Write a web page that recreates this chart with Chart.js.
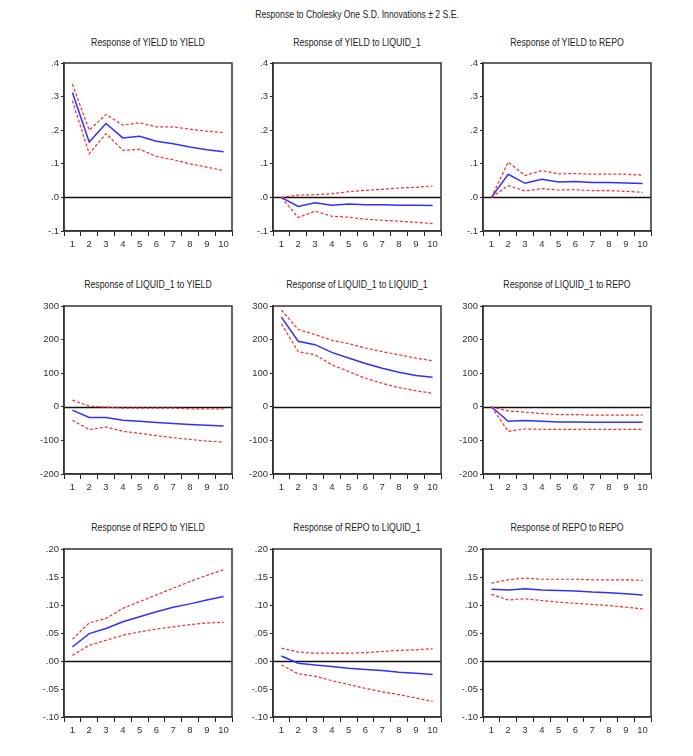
<!DOCTYPE html>
<html>
<head>
<meta charset="utf-8">
<script src="https://cdn.jsdelivr.net/npm/chart.js@4.4.1/dist/chart.umd.min.js"></script>
<style>
  html, body { margin: 0; padding: 0; background: #fff; }
  body { width: 693px; height: 756px; position: relative; overflow: hidden;
         font-family: 'Liberation Sans Narrow', 'Arial Narrow', 'Liberation Sans', Arial, sans-serif; color: #222; }
  .main-title { position: absolute; left: 207px; width: 300px; top: 8px; text-align: center; font-size: 11.5px;
                transform: scaleX(0.75); transform-origin: 50% 50%; white-space: nowrap; }
  .ptitle { position: absolute; width: 220px; text-align: center; font-size: 11.5px;
            transform: scaleX(0.76); transform-origin: 50% 50%; white-space: nowrap; }
  .box { position: absolute; }
</style>
</head>
<body>
<div class="main-title">Response to Cholesky One S.D. Innovations ± 2 S.E.</div>
<div id="grid"></div>
<script>
// ============================================================
//  Impulse responses (EViews style) — 3x3 panels
// ============================================================

const steps = ['1', '2', '3', '4', '5', '6', '7', '8', '9', '10'];

// row 1 : response of YIELD
const yieldToYield    = [0.312, 0.165, 0.220, 0.177, 0.182, 0.167, 0.160, 0.150, 0.142, 0.136];
const yieldToYieldUp  = [0.337, 0.200, 0.247, 0.215, 0.222, 0.210, 0.210, 0.203, 0.197, 0.193];
const yieldToYieldLo  = [0.288, 0.130, 0.190, 0.140, 0.143, 0.122, 0.112, 0.100, 0.090, 0.080];

const yieldToLiquid   = [0, -0.027, -0.016, -0.023, -0.020, -0.022, -0.022, -0.023, -0.023, -0.024];
const yieldToLiquidUp = [0, 0.007, 0.008, 0.011, 0.017, 0.021, 0.024, 0.028, 0.030, 0.034];
const yieldToLiquidLo = [0, -0.060, -0.041, -0.056, -0.059, -0.065, -0.068, -0.071, -0.074, -0.078];

const yieldToRepo     = [0, 0.069, 0.042, 0.054, 0.046, 0.047, 0.044, 0.044, 0.043, 0.041];
const yieldToRepoUp   = [0, 0.105, 0.065, 0.080, 0.070, 0.071, 0.069, 0.069, 0.069, 0.066];
const yieldToRepoLo   = [0, 0.035, 0.019, 0.026, 0.022, 0.023, 0.020, 0.020, 0.018, 0.015];

// row 2 : response of LIQUID_1
const liquidToYield    = [-10, -32, -32, -40, -43, -47, -50, -53, -55, -57];
const liquidToYieldUp  = [20, 2, -1, -4, -4, -4, -4, -6, -6, -6];
const liquidToYieldLo  = [-40, -68, -60, -73, -79, -86, -92, -97, -102, -105];

const liquidToLiquid   = [267, 195, 185, 162, 145, 129, 115, 103, 93, 88];
const liquidToLiquidUp = [288, 230, 215, 198, 188, 175, 164, 155, 145, 137];
const liquidToLiquidLo = [247, 164, 155, 125, 105, 85, 70, 57, 48, 40];

const liquidToRepo     = [0, -43, -41, -43, -45, -45, -46, -46, -46, -46];
const liquidToRepoUp   = [0, -12, -16, -20, -23, -23, -25, -25, -25, -25];
const liquidToRepoLo   = [0, -73, -66, -67, -67, -67, -67, -67, -67, -67];

// row 3 : response of REPO
const repoToYield    = [0.025, 0.049, 0.058, 0.070, 0.079, 0.088, 0.096, 0.102, 0.109, 0.115];
const repoToYieldUp  = [0.039, 0.068, 0.076, 0.094, 0.106, 0.118, 0.130, 0.142, 0.153, 0.163];
const repoToYieldLo  = [0.010, 0.028, 0.037, 0.046, 0.052, 0.057, 0.061, 0.065, 0.068, 0.069];

const repoToLiquid   = [0.009, -0.004, -0.007, -0.010, -0.013, -0.015, -0.017, -0.020, -0.022, -0.024];
const repoToLiquidUp = [0.023, 0.016, 0.014, 0.014, 0.014, 0.015, 0.017, 0.019, 0.020, 0.022];
const repoToLiquidLo = [-0.007, -0.023, -0.027, -0.035, -0.042, -0.049, -0.055, -0.060, -0.066, -0.072];

const repoToRepo     = [0.128, 0.127, 0.129, 0.127, 0.126, 0.125, 0.123, 0.122, 0.120, 0.118];
const repoToRepoUp   = [0.139, 0.145, 0.148, 0.146, 0.146, 0.146, 0.145, 0.145, 0.145, 0.144];
const repoToRepoLo   = [0.119, 0.109, 0.111, 0.108, 0.105, 0.103, 0.101, 0.099, 0.096, 0.093];

// y axes, one per row
const yieldTicks  = [-0.1, 0, 0.1, 0.2, 0.3, 0.4];
const yieldLabels = ['-.1', '.0', '.1', '.2', '.3', '.4'];
const liquidTicks  = [-200, -100, 0, 100, 200, 300];
const liquidLabels = ['-200', '-100', '0', '100', '200', '300'];
const repoTicks  = [-0.10, -0.05, 0, 0.05, 0.10, 0.15, 0.20];
const repoLabels = ['-.10', '-.05', '.00', '.05', '.10', '.15', '.20'];

const FONT = "'Liberation Sans Narrow', 'Arial Narrow', 'Liberation Sans', Arial, sans-serif";
const COL_LEFT = [64, 273, 483];
const ROW_TOP = [63, 306, 549];
const ROW_TITLE = [36, 278, 521];
const BOX_W = 168, BOX_H = 168;
const AXIS_W = 34, PAD_TOP = 8, PAD_RIGHT = 8, AXIS_H = 22;

const panels = [
  { title: 'Response of YIELD to YIELD', mid: yieldToYield, up: yieldToYieldUp, lo: yieldToYieldLo, ticks: yieldTicks, labels: yieldLabels },
  { title: 'Response of YIELD to LIQUID_1', mid: yieldToLiquid, up: yieldToLiquidUp, lo: yieldToLiquidLo, ticks: yieldTicks, labels: yieldLabels },
  { title: 'Response of YIELD to REPO', mid: yieldToRepo, up: yieldToRepoUp, lo: yieldToRepoLo, ticks: yieldTicks, labels: yieldLabels },
  { title: 'Response of LIQUID_1 to YIELD', mid: liquidToYield, up: liquidToYieldUp, lo: liquidToYieldLo, ticks: liquidTicks, labels: liquidLabels },
  { title: 'Response of LIQUID_1 to LIQUID_1', mid: liquidToLiquid, up: liquidToLiquidUp, lo: liquidToLiquidLo, ticks: liquidTicks, labels: liquidLabels },
  { title: 'Response of LIQUID_1 to REPO', mid: liquidToRepo, up: liquidToRepoUp, lo: liquidToRepoLo, ticks: liquidTicks, labels: liquidLabels },
  { title: 'Response of REPO to YIELD', mid: repoToYield, up: repoToYieldUp, lo: repoToYieldLo, ticks: repoTicks, labels: repoLabels },
  { title: 'Response of REPO to LIQUID_1', mid: repoToLiquid, up: repoToLiquidUp, lo: repoToLiquidLo, ticks: repoTicks, labels: repoLabels },
  { title: 'Response of REPO to REPO', mid: repoToRepo, up: repoToRepoUp, lo: repoToRepoLo, ticks: repoTicks, labels: repoLabels },
];

// frame round the plot + the zero line, drawn under the data
const framePlugin = {
  id: 'frame',
  beforeDatasetsDraw(chart) {
    const { ctx, chartArea: a, scales } = chart;
    ctx.save();
    ctx.strokeStyle = '#111';
    ctx.lineWidth = 1.3;
    const y0 = Math.round(scales.y.getPixelForValue(0)) + 0.5;
    ctx.beginPath();
    ctx.moveTo(a.left, y0);
    ctx.lineTo(a.right, y0);
    ctx.stroke();
    ctx.lineWidth = 1.5;
    ctx.strokeStyle = '#333';
    ctx.strokeRect(a.left, a.top, a.right - a.left, a.bottom - a.top);
    ctx.restore();
  },
};

const grid = document.getElementById('grid');

panels.forEach((p, i) => {
  const col = i % 3, row = Math.floor(i / 3);
  const left = COL_LEFT[col], top = ROW_TOP[row];

  const title = document.createElement('div');
  title.className = 'ptitle';
  title.style.left = (left + BOX_W / 2 - 110) + 'px';
  title.style.top = ROW_TITLE[row] + 'px';
  title.textContent = p.title;
  grid.appendChild(title);

  const box = document.createElement('div');
  box.className = 'box';
  box.style.left = (left - AXIS_W) + 'px';
  box.style.top = (top - PAD_TOP) + 'px';
  box.style.width = (AXIS_W + BOX_W + PAD_RIGHT) + 'px';
  box.style.height = (PAD_TOP + BOX_H + AXIS_H) + 'px';
  const cv = document.createElement('canvas');
  box.appendChild(cv);
  grid.appendChild(box);

  const red = { borderColor: '#ff2a2a', borderWidth: 1.2, borderDash: [3, 2], pointRadius: 0, tension: 0, fill: false };

  new Chart(cv.getContext('2d'), {
    type: 'line',
    data: {
      labels: steps,
      datasets: [
        { ...red, label: '+2 S.E.', data: p.up },
        { label: 'Response', data: p.mid, borderColor: '#3030ff', borderWidth: 1.5, pointRadius: 0, tension: 0, fill: false },
        { ...red, label: '-2 S.E.', data: p.lo },
      ],
    },
    options: {
      responsive: true, maintainAspectRatio: false, animation: false,
      layout: { padding: { top: PAD_TOP, right: PAD_RIGHT, left: 0, bottom: 0 } },
      plugins: { legend: { display: false }, tooltip: { enabled: false } },
      scales: {
        x: {
          offset: true,
          grid: { offset: true, drawOnChartArea: false, tickColor: '#222', tickLength: 5 },
          border: { color: '#333', width: 1.5 },
          ticks: { color: '#333', font: { size: 9.5, family: FONT }, maxRotation: 0, autoSkip: false, padding: 3 },
          afterFit: (s) => { s.height = AXIS_H; },
        },
        y: {
          min: p.ticks[0], max: p.ticks[p.ticks.length - 1],
          afterBuildTicks: (s) => { s.ticks = p.ticks.map((v) => ({ value: v })); },
          grid: { drawOnChartArea: false, tickColor: '#222', tickLength: 3 },
          border: { color: '#333', width: 1.5 },
          ticks: { color: '#333', font: { size: 9.5, family: FONT }, padding: 2, callback: (v, idx) => p.labels[idx] },
          afterFit: (s) => { s.width = AXIS_W; },
        },
      },
    },
    plugins: [framePlugin],
  });
});
</script>
</body>
</html>
